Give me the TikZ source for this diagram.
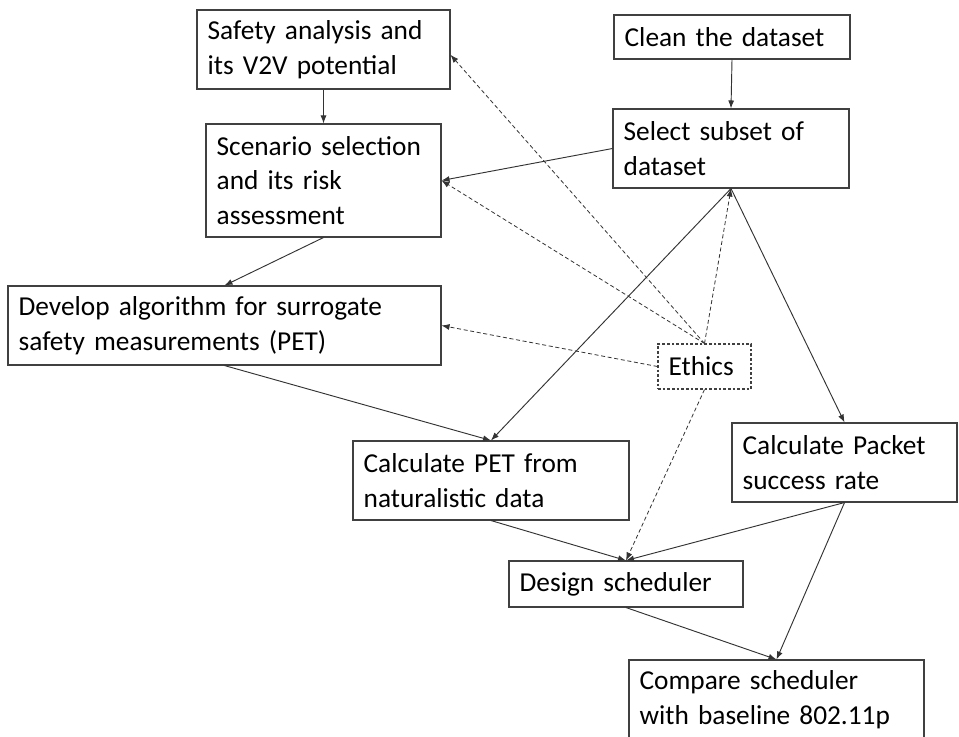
\documentclass[tikz,border=0pt]{standalone}
\usepackage{fontspec}
\setmainfont{Carlito}[WordSpace=0.6]
\usetikzlibrary{arrows.meta}

\tikzset{
  task/.style={draw=black!75, line width=0.8pt, fill=white, align=left,
    inner xsep=8pt, inner ysep=0pt,
    font=\fontsize{20.5}{26}\selectfont},
  link/.style={->, draw=black!80, line width=0.7pt},
  ethic/.style={->, draw=black!80, line width=0.6pt, dash pattern=on 3pt off 2pt},
}

\begin{document}
\begin{tikzpicture}[x=0.75pt, y=-0.75pt, >={Latex[length=6pt, width=4.5pt]}]
  \clip (0, 0) rectangle (959, 736);
  \fill[white] (0, 0) rectangle (959, 736);

  % Left column
  \node[task, text width=173.75pt, minimum height=59.25pt] (safety) at (323.5, 49.5)
    {Safety analysis and\\its V2V potential};
  \node[task, text width=160.25pt, minimum height=84.75pt] (scenario) at (323.5, 180.5)
    {Scenario selection\\and its risk\\assessment};
  \node[task, text width=308.75pt, minimum height=59.25pt] (algo) at (224.5, 325.5)
    {Develop algorithm for surrogate\\safety measurements (PET)};

  % Right column
  \node[task, text width=161pt, minimum height=33pt] (clean) at (732, 37)
    {Clean the dataset};
  \node[task, text width=161pt, minimum height=59.25pt] (subset) at (731, 148.5)
    {Select subset of\\dataset};
  \node[task, dash pattern=on 2pt off 1.5pt, text width=53.75pt, minimum height=33.75pt] (ethics) at (704.5, 366.5)
    {Ethics};

  % Lower part
  \node[task, text width=191pt, minimum height=59.25pt] (pet) at (491, 480.5)
    {Calculate PET from\\naturalistic data};
  \node[task, text width=152.75pt, minimum height=59.25pt] (packet) at (844.5, 462.5)
    {Calculate Packet\\success rate};
  \node[task, text width=159.5pt, minimum height=34.5pt] (design) at (626, 584)
    {Design scheduler};
  \node[task, text width=205.25pt, minimum height=59.25pt] (compare) at (776.5, 699.5)
    {Compare scheduler\\with baseline 802.11p};

  % Solid flow
  \draw[link] (safety.south) -- (scenario.north);
  \draw[link] (clean.south) -- (subset.north);
  \draw[link] (subset.west) -- (scenario.east);
  \draw[link] (scenario.south) -- (algo.north);
  \draw[link] (algo.south) -- (pet.north);
  \draw[link] (subset.south) -- (pet.north);
  \draw[link] (subset.south) -- (packet.north);
  \draw[link] (pet.south) -- (design.north);
  \draw[link] (packet.south) -- (design.north);
  \draw[link] (design.south) -- (compare.north);
  \draw[link] (packet.south) -- (compare.north);

  % Ethics links
  \draw[ethic] (ethics.north) -- ([yshift=-4pt]safety.east);
  \draw[ethic] (ethics.north) -- (scenario.east);
  \draw[ethic] (ethics.north) -- (subset.south);
  \draw[ethic] (ethics.west) -- (algo.east);
  \draw[ethic] (ethics.south) -- (design.north);
\end{tikzpicture}
\end{document}
